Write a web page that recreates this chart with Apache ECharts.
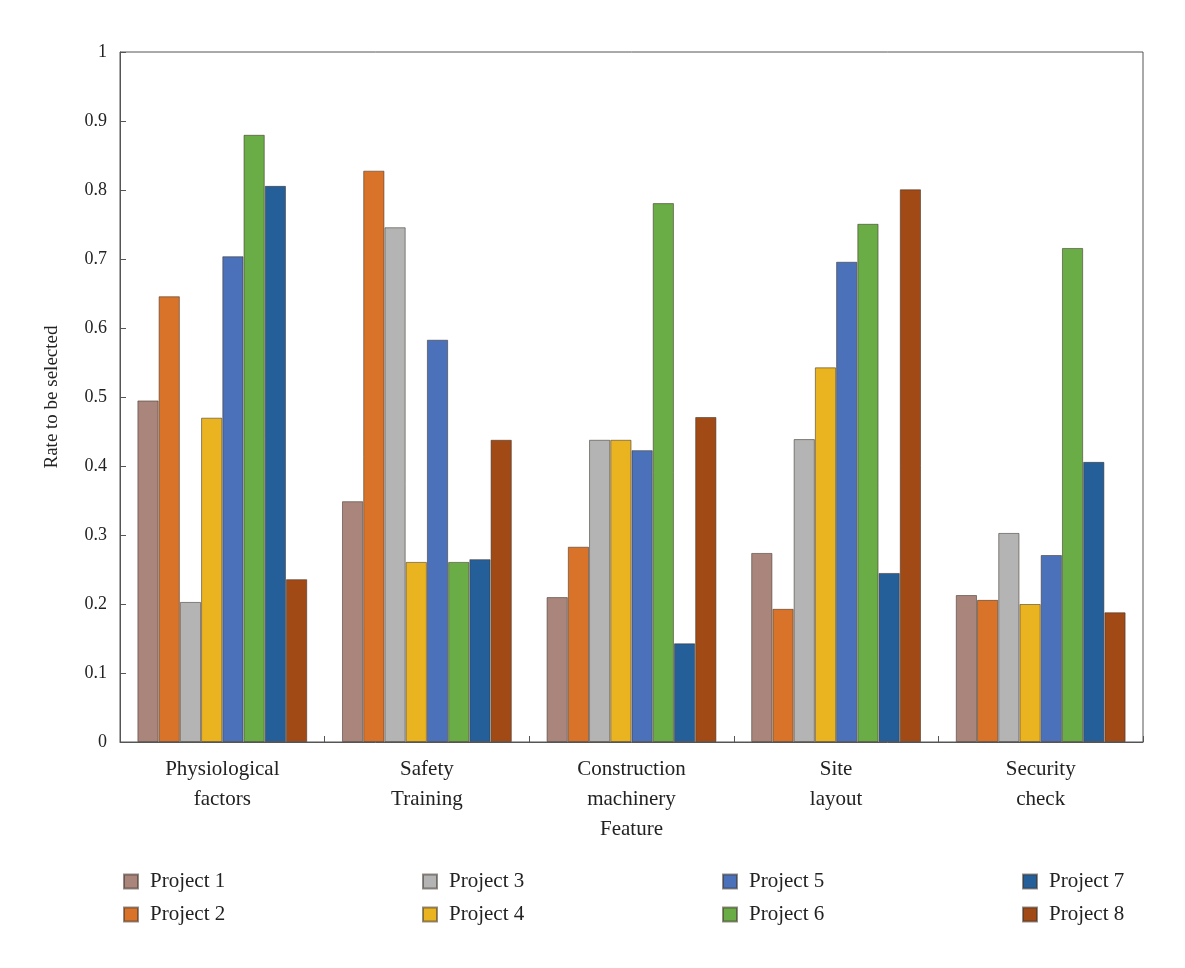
<!DOCTYPE html>
<html>
<head>
<meta charset="utf-8">
<script src="https://cdn.jsdelivr.net/npm/echarts@6/dist/echarts.min.js"></script>
<style>
  html, body { margin: 0; padding: 0; background: #fff; }
  #main { width: 1185px; height: 968px; }
</style>
</head>
<body>
<div id="main"></div>
<script>
var categories = ['Physiological\nfactors', 'Safety\nTraining', 'Construction\nmachinery\nFeature', 'Site\nlayout', 'Security\ncheck'];
var projectNames = ['Project 1', 'Project 2', 'Project 3', 'Project 4', 'Project 5', 'Project 6', 'Project 7', 'Project 8'];
var project1 = [0.495, 0.349, 0.210, 0.274, 0.213];
var project2 = [0.646, 0.828, 0.283, 0.193, 0.206];
var project3 = [0.203, 0.746, 0.438, 0.439, 0.303];
var project4 = [0.470, 0.261, 0.438, 0.543, 0.200];
var project5 = [0.704, 0.583, 0.423, 0.696, 0.271];
var project6 = [0.880, 0.261, 0.781, 0.751, 0.716];
var project7 = [0.806, 0.265, 0.143, 0.245, 0.406];
var project8 = [0.236, 0.438, 0.471, 0.801, 0.188];
var colors = ['#aa857c', '#d9732a', '#b4b4b4', '#eab420', '#4a71b9', '#6aac45', '#255f99', '#a24a16'];

var allData = [project1, project2, project3, project4, project5, project6, project7, project8];
var serif = '"Liberation Serif", "DejaVu Serif", serif';

var app = echarts.init(document.getElementById('main'));

var series = [];
for (var i = 0; i < allData.length; i++) {
    series.push({
        name: projectNames[i],
        type: 'bar',
        data: allData[i],
        barGap: '0%',
        barCategoryGap: '17%',
        itemStyle: {
            color: colors[i],
            borderColor: 'rgba(60,50,40,0.55)',
            borderWidth: 1
        }
    });
}

// legend in 4 columns of 2
var legends = [];
var legendLeft = [118, 417, 717, 1017];
for (var c = 0; c < 4; c++) {
    legends.push({
        data: [projectNames[c * 2], projectNames[c * 2 + 1]],
        orient: 'vertical',
        left: legendLeft[c],
        top: 866,
        itemWidth: 14,
        itemHeight: 14,
        itemGap: 12,
        icon: 'rect',
        selectedMode: false,
        textStyle: { fontFamily: serif, fontSize: 21, color: '#222', padding: [0, 0, 0, 7] }
    });
}

var option = {
    backgroundColor: '#fff',
    animation: false,
    color: colors,
    grid: {
        left: 120,
        right: 42,
        top: 52,
        bottom: 226,
        show: true,
        borderColor: '#555',
        borderWidth: 1
    },
    legend: legends,
    xAxis: {
        type: 'category',
        data: categories,
        axisLine: { lineStyle: { color: '#555' } },
        axisTick: { show: true, inside: true, length: 6, lineStyle: { color: '#555' } },
        axisLabel: {
            fontFamily: serif,
            fontSize: 21,
            color: '#222',
            lineHeight: 30,
            margin: 12
        }
    },
    yAxis: {
        type: 'value',
        min: 0,
        max: 1,
        interval: 0.1,
        name: 'Rate to be selected',
        nameLocation: 'middle',
        nameGap: 58,
        nameTextStyle: { fontFamily: serif, fontSize: 19, color: '#222' },
        axisLine: { show: true, lineStyle: { color: '#555' } },
        axisTick: { show: true, inside: true, length: 6, lineStyle: { color: '#555' } },
        splitLine: { show: false },
        axisLabel: {
            fontFamily: serif,
            fontSize: 18,
            color: '#222',
            margin: 13,
            formatter: function (v) { return String(Math.round(v * 10) / 10); }
        }
    },
    series: series
};

app.setOption(option);
</script>
</body>
</html>
